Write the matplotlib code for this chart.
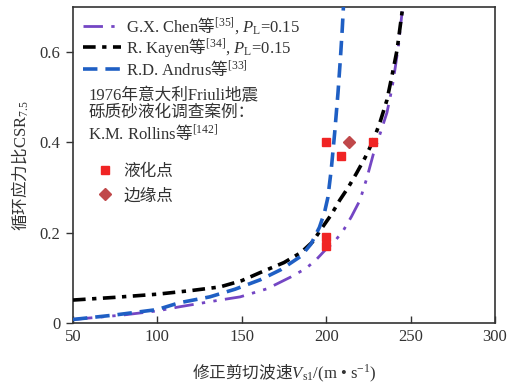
import matplotlib
matplotlib.use("Agg")
import matplotlib.pyplot as plt

plt.rcParams['font.family'] = ['Liberation Serif', 'Noto Sans CJK SC']
plt.rcParams['mathtext.fontset'] = 'custom'
plt.rcParams['mathtext.rm'] = 'Liberation Serif'
plt.rcParams['mathtext.it'] = 'Liberation Serif:italic'
plt.rcParams['mathtext.sf'] = 'Noto Sans CJK SC'
plt.rcParams['font.size'] = 12

# Curves
chen_v = [50, 80, 100, 113, 137, 149, 165, 179, 188, 194, 199, 205, 210, 215, 220, 224, 228, 232, 236, 239, 241, 243, 245]
chen_csr = [0.008, 0.018, 0.027, 0.036, 0.051, 0.058, 0.076, 0.102, 0.121, 0.140, 0.160, 0.181, 0.204, 0.236, 0.272, 0.320, 0.375, 0.420, 0.466, 0.520, 0.568, 0.620, 0.690]

kayen_v = [50, 75, 100, 120, 137, 150, 161, 175, 185, 192, 197, 203, 208, 213, 218, 223, 228, 232, 236, 239, 242, 245]
kayen_csr = [0.051, 0.057, 0.064, 0.072, 0.080, 0.094, 0.112, 0.134, 0.156, 0.180, 0.208, 0.240, 0.272, 0.300, 0.332, 0.366, 0.405, 0.446, 0.494, 0.548, 0.605, 0.690]

andrus_v = [50, 75, 100, 113, 131, 146, 161, 173, 185, 191, 196, 199, 201, 203, 205, 207, 208.5, 209.5, 210.5]
andrus_csr = [0.008, 0.018, 0.030, 0.045, 0.058, 0.075, 0.096, 0.118, 0.148, 0.175, 0.212, 0.245, 0.278, 0.340, 0.420, 0.510, 0.590, 0.650, 0.720]

# Case data
liq_v = [200, 209, 228, 200, 200]
liq_csr = [0.40, 0.37, 0.40, 0.19, 0.17]
marg_v = [213.5]
marg_csr = [0.40]

xticks = [50, 100, 150, 200, 250, 300]
yticks = [0, 0.2, 0.4, 0.6]

fig = plt.figure(figsize=(5.14, 3.86), dpi=100)
ax = fig.add_axes([0.142, 0.163, 0.821, 0.819])

purple = '#7446c4'
blue = '#1f5fc4'
tcol = '#333333'
l1, = ax.plot(chen_v, chen_csr, color=purple, lw=2.0, dashes=(7, 3, 1.2, 3, 1.2, 3), zorder=3)
l2, = ax.plot(kayen_v, kayen_csr, color='black', lw=2.6, dashes=(3.5, 1.8, 1.2, 1.8), zorder=3)
l3, = ax.plot(andrus_v, andrus_csr, color=blue, lw=2.6, dashes=(4, 2.2), zorder=3)

m1, = ax.plot(liq_v, liq_csr, ls='none', marker='s', ms=6, color='#f02424', mec='#f02424', zorder=4)
m2, = ax.plot(marg_v, marg_csr, ls='none', marker='D', ms=6, color='#c0484a', mec='#c0484a', zorder=4)

ax.set_xlim(50, 300)
ax.set_ylim(0, 0.70)
ax.set_xticks(xticks)
ax.set_xticklabels([str(v) for v in xticks])
ax.set_yticks(yticks)
ax.set_yticklabels(['0', '0.2', '0.4', '0.6'])
ax.tick_params(labelsize=12, colors=tcol, pad=4, width=1)
ax.tick_params(axis='y', direction='out', length=5)
ax.tick_params(axis='x', direction='in', length=5)
for s in ax.spines.values():
    s.set_linewidth(1.2)
    s.set_color(tcol)

ax.set_xlabel('$\\mathsf{修正剪切波速}V_{\\mathrm{s1}}$/(m • s$^{-1}$)', fontsize=12, color=tcol, labelpad=13)
ax.set_ylabel('$\\mathsf{循环应力比}$CSR$_{7.5}$', fontsize=12, color=tcol, labelpad=6)

leg1 = ax.legend([l1, l2, l3],
                 ['G.X. Chen$\\mathsf{等}^{[35]}$, $P_{\\mathrm{L}}$=0.15',
                  'R. Kayen$\\mathsf{等}^{[34]}$, $P_{\\mathrm{L}}$=0.15',
                  'R.D. Andrus$\\mathsf{等}^{[33]}$'],
                 loc='upper left', bbox_to_anchor=(0.0, 1.005), frameon=False,
                 handlelength=2.3, handletextpad=0.3, labelspacing=0.0,
                 fontsize=12, borderaxespad=0.2)
for t in leg1.get_texts():
    t.set_color(tcol)
ax.add_artist(leg1)

ax.text(0.036, 0.745, '1976年意大利Friuli地震\n砾质砂液化调查案例：\nK.M. Rollins$\\mathsf{等}^{[142]}$',
        transform=ax.transAxes, ha='left', va='top', fontsize=12, color=tcol,
        linespacing=1.1)

leg2 = ax.legend([m1, m2], ['液化点', '边缘点'], loc='upper left',
                 bbox_to_anchor=(0.033, 0.535), frameon=False, handlelength=1.0,
                 handletextpad=0.6, labelspacing=0.5, fontsize=12, borderaxespad=0.2)
for t in leg2.get_texts():
    t.set_color(tcol)

fig.savefig('out.png', dpi=100)
